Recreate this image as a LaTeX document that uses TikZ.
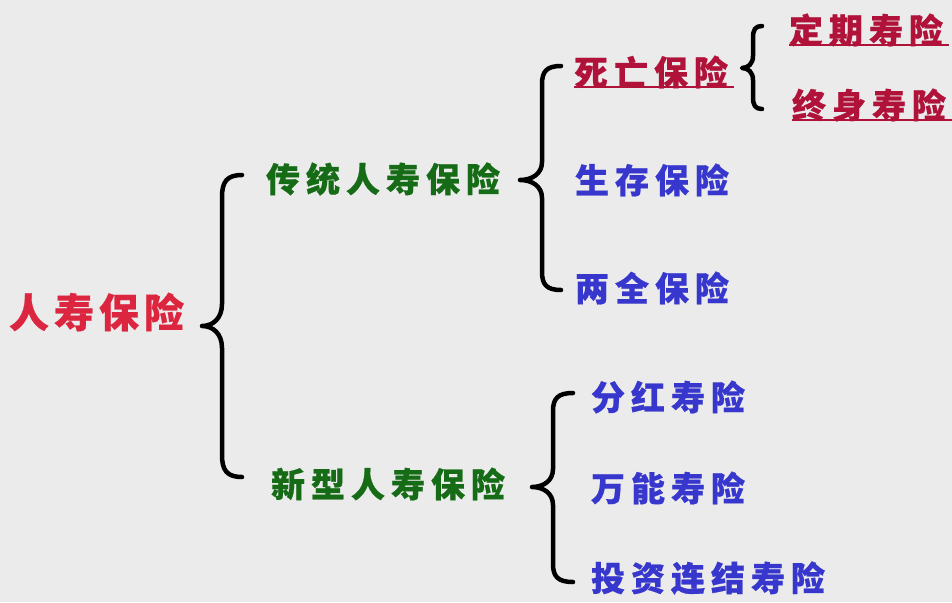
\documentclass[tikz,border=0pt]{standalone}
\usepackage{fontspec}
\newfontfamily\cjk{Noto Sans CJK SC}[BoldFeatures={FakeBold=0.6}]
\definecolor{bg}{RGB}{235,235,235}
\definecolor{rootred}{RGB}{220,38,64}
\definecolor{darkred}{RGB}{176,18,58}
\definecolor{grn}{RGB}{22,108,22}
\definecolor{blu}{RGB}{55,55,205}
\newlength\lsgap
\newcommand\gp{\kern\lsgap}
\newcommand\mybrace[7]{% #1 xend #2 xline #3 xtip #4 ytop #5 ytip #6 ybot #7 radius
  \draw[brc] ({#1},{#4}) .. controls ({#2+0.25*(#1-#2)},{#4}) and ({#2},{#4+0.3*#7}) .. ({#2},{#4+#7})
    -- ({#2},{#5-#7}) .. controls ({#2},{#5-0.35*#7}) and ({#2-0.45*(#2-#3)},{#5}) .. ({#3},{#5})
    .. controls ({#2-0.45*(#2-#3)},{#5}) and ({#2},{#5+0.35*#7}) .. ({#2},{#5+#7})
    -- ({#2},{#6-#7}) .. controls ({#2},{#6-0.3*#7}) and ({#2+0.25*(#1-#2)},{#6}) .. ({#1},{#6});}
\tikzset{
  txt/.style={anchor=west, inner sep=0pt, outer sep=0pt},
  lvroot/.style={txt, text=rootred, font=\cjk\bfseries\fontsize{40}{44}\selectfont\setlength\lsgap{5pt}},
  lvone/.style={txt, text=grn, font=\cjk\bfseries\fontsize{34}{40}\selectfont\setlength\lsgap{6pt}},
  lvblue/.style={txt, text=blu, font=\cjk\bfseries\fontsize{34}{40}\selectfont\setlength\lsgap{6pt}},
  lvred/.style={txt, text=darkred, font=\cjk\bfseries\fontsize{34}{40}\selectfont\setlength\lsgap{6pt}},
  brc/.style={line width=4.5pt, line cap=round, line join=round},
  ul/.style={darkred, line width=2pt},
}
\begin{document}
\begin{tikzpicture}[x=1pt,y=-1pt]
\useasboundingbox (0,0) rectangle (952,602);
\fill[bg] (0,0) rectangle (952,602);
% texts
\node[lvroot] (root) at (9,312) {人\gp 寿\gp 保\gp 险};
\node[lvone] (trad) at (266,179) {传\gp 统\gp 人\gp 寿\gp 保\gp 险};
\node[lvone] (new) at (271,484) {新\gp 型\gp 人\gp 寿\gp 保\gp 险};
\node[lvred] (death) at (574,72) {死\gp 亡\gp 保\gp 险};
\node[lvblue] (surv) at (575,180) {生\gp 存\gp 保\gp 险};
\node[lvblue] (endow) at (575,288) {两\gp 全\gp 保\gp 险};
\node[lvred] (term) at (789,30) {定\gp 期\gp 寿\gp 险};
\node[lvred] (whole) at (792,105) {终\gp 身\gp 寿\gp 险};
\node[lvblue] (div) at (591,397) {分\gp 红\gp 寿\gp 险};
\node[lvblue] (univ) at (591,488) {万\gp 能\gp 寿\gp 险};
\node[lvblue] (inv) at (591,578) {投\gp 资\gp 连\gp 结\gp 寿\gp 险};
% underlines
\draw[ul] ([yshift=1pt]death.south west) -- ([xshift=6pt,yshift=1pt]death.south east);
\draw[ul] ([yshift=1pt]term.south west) -- ([xshift=6pt,yshift=1pt]term.south east);
\draw[ul] ([yshift=1pt]whole.south west) -- ([xshift=6pt,yshift=1pt]whole.south east);
% braces
\mybrace{242}{222}{202}{175}{326}{477}{22}
\mybrace{561}{542}{520}{66}{180}{290}{18}
\mybrace{573}{553}{532}{393}{487}{582}{18}
\mybrace{762}{753}{742}{26}{68}{109}{12}
\end{tikzpicture}
\end{document}
